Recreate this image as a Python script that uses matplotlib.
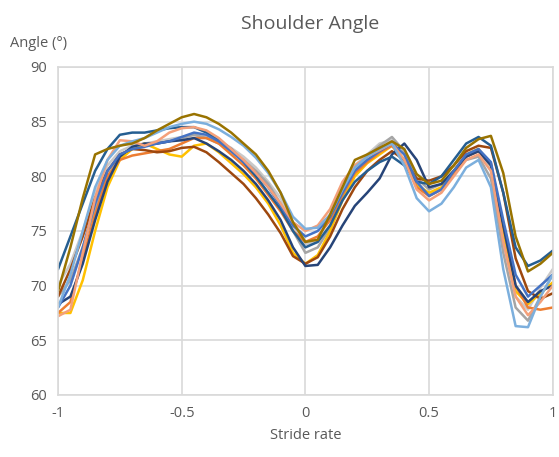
import numpy as np
import matplotlib
matplotlib.use("Agg")
import matplotlib.pyplot as plt

plt.rcParams["font.family"] = ["Open Sans", "DejaVu Sans"]

# stride rate samples (every 0.05)
stride = [-1.0, -0.95, -0.9, -0.85, -0.8, -0.75, -0.7, -0.65, -0.6, -0.55,
          -0.5, -0.45, -0.4, -0.35, -0.3, -0.25, -0.2, -0.15, -0.1, -0.05,
          0.0, 0.05, 0.1, 0.15, 0.2, 0.25, 0.3, 0.35, 0.4, 0.45,
          0.5, 0.55, 0.6, 0.65, 0.7, 0.75, 0.8, 0.85, 0.9, 0.95, 1.0]

olive = [69.5, 73.5, 78, 82, 82.5, 82.8, 83, 83.5, 84.2, 84.8,
         85.4, 85.7, 85.4, 84.8, 84, 83, 82, 80.5, 78.5, 75.8,
         74, 74.2, 76.5, 79, 81.5, 82, 82.6, 83.2, 82.5, 80.2,
         79.3, 79.6, 81, 82.6, 83.4, 83.7, 80.3, 74.5, 71.3, 72, 73]
steel = [71.5, 74.5, 77.5, 80.5, 82.5, 83.8, 84, 84, 84.2, 84.4,
         84.5, 84.5, 84, 83.3, 82.5, 81.3, 80, 78.5, 77, 75,
         73.5, 74, 75.5, 77.8, 79.5, 80.5, 81.3, 81.8, 81, 79.5,
         79.3, 80, 81.5, 83, 83.6, 82.8, 78.5, 73.5, 71.8, 72.3, 73.2]
navy = [68.3, 69, 72, 76, 79.5, 81.8, 82.7, 83, 83, 83.2,
        83.3, 83.5, 83, 82.3, 81.5, 80.5, 79.3, 77.8, 76, 73.5,
        71.8, 71.9, 73.5, 75.5, 77.3, 78.5, 79.8, 82, 83, 81.5,
        79, 79.3, 80.5, 81.8, 82.3, 81, 75.5, 70, 68.5, 69.5, 70]
brown = [69, 71.5, 74.5, 78, 80.5, 82, 82.5, 82.4, 82.2, 82.3,
         82.6, 82.7, 82.2, 81.3, 80.3, 79.3, 78, 76.5, 74.8, 72.7,
         72, 72.6, 74.5, 77, 79, 80.5, 81.5, 82.3, 81.5, 79.8,
         79.6, 80, 81, 82.3, 82.8, 82.6, 78.5, 72.5, 69.5, 68.8, 69.3]
orange = [67.5, 68.5, 72.5, 76.5, 80, 81.5, 81.9, 82.1, 82.3, 82.5,
          83, 83.5, 83.5, 83, 82, 81, 79.8, 78.3, 76.8, 75,
          74, 74.5, 76, 78.3, 80.3, 81.3, 82.2, 82.8, 81.5, 79,
          78.2, 78.8, 80.3, 81.8, 82.3, 81.2, 75.5, 70, 68, 67.8, 68]
salmon = [67.2, 67.8, 73, 78, 81.5, 83.3, 83.2, 82.8, 83.2, 84,
          84.4, 84.5, 84.2, 83.5, 82.5, 81.5, 80.3, 79, 77.5, 75.8,
          75, 75.5, 77, 79.5, 81, 81.8, 82.4, 83, 81.5, 78.8,
          77.8, 78.5, 80, 81.5, 82, 80.5, 74, 69, 67.3, 68.5, 70]
gold = [67.5, 67.5, 70.5, 75, 79, 81.5, 82.5, 83, 82.5, 82,
        81.8, 82.8, 83, 82.2, 81.2, 80.2, 79, 77.5, 75.5, 73,
        72, 72.8, 75, 77.8, 80, 81.2, 82, 82.8, 81.5, 79.2,
        78.5, 79, 80.5, 82, 82.5, 81, 74.5, 69.5, 68.3, 69.3, 70.3]
gray = [69, 70.5, 73.5, 77, 80, 81.8, 82.5, 82.8, 83, 83.2,
        83.5, 83.8, 83.5, 83, 82.3, 81.5, 80.5, 79.3, 77.5, 75,
        73, 73.5, 75.3, 78, 80.5, 81.8, 82.8, 83.6, 82.3, 79.8,
        78.8, 79.3, 80.5, 81.5, 81.8, 79.8, 73, 68, 66.8, 69, 71]
lightgray = [70, 72, 75, 78.5, 81, 82.3, 82.8, 83, 83.2, 83.4,
             83.6, 83.8, 83.6, 83.2, 82.6, 81.8, 80.8, 79.5, 78, 75.5,
             73.8, 74, 75.5, 78.5, 81, 82, 83, 83.3, 82, 79.5,
             78.3, 78.8, 80.3, 81.8, 82.3, 80.5, 74, 69, 67.8, 69.8, 71.5]
lightblue = [68, 71, 75, 79, 81.5, 82.8, 83.2, 83.5, 84, 84.5,
             84.8, 85, 84.8, 84.3, 83.6, 82.8, 81.7, 80.3, 78.5, 76.3,
             75.2, 75.3, 76.5, 78.8, 80.8, 81.8, 82.5, 83, 81, 78,
             76.8, 77.5, 79, 80.8, 81.5, 79, 71.5, 66.3, 66.2, 69, 71]
blue = [68, 70, 73.5, 77.5, 80.5, 82, 82.5, 82.7, 83, 83.2,
        83.6, 84, 83.8, 83.2, 82.3, 81.3, 80.3, 79, 77.3, 75.5,
        74.5, 75, 76.3, 78.5, 80.5, 81.5, 82.3, 83, 82, 79.5,
        78.2, 78.8, 80.5, 82, 82.5, 81.3, 76, 71, 69, 70, 71]

series = [
    (lightgray, "#C9C9C9"),
    (gray, "#A5A5A5"),
    (gold, "#FFC000"),
    (orange, "#ED7D31"),
    (brown, "#9E480E"),
    (navy, "#264478"),
    (steel, "#255E91"),
    (blue, "#4472C4"),
    (salmon, "#F4A07A"),
    (lightblue, "#7CAFDD"),
    (olive, "#997300"),
]

fig = plt.figure(figsize=(5.59, 4.57), dpi=100)
ax = fig.add_axes([0.1038, 0.1357, 0.885, 0.7177])

for vals, col in series:
    ax.plot(stride, vals, color=col, lw=1.8, solid_capstyle="round",
            solid_joinstyle="round")

ax.set_xlim(-1, 1)
ax.set_ylim(60, 90)
ax.set_xticks([-1, -0.5, 0, 0.5, 1])
ax.set_xticklabels(["-1", "-0.5", "0", "0.5", "1"])
ax.set_yticks([60, 65, 70, 75, 80, 85, 90])
ax.grid(True, color="#D9D9D9", lw=1.2)
ax.set_axisbelow(True)
for s in ax.spines.values():
    s.set_color("#D9D9D9")
    s.set_linewidth(1.2)
ax.tick_params(length=0, colors="#595959", labelsize=10.5, pad=8)

fig.text(0.555, 0.948, "Shoulder Angle", ha="center", va="center",
         fontsize=14, color="#595959")
fig.text(0.018, 0.905, "Angle (°)", ha="left", va="center",
         fontsize=10.5, color="#595959")
ax.set_xlabel("Stride rate", fontsize=10.5, color="#595959", labelpad=5)

fig.savefig("out.png", dpi=100)
